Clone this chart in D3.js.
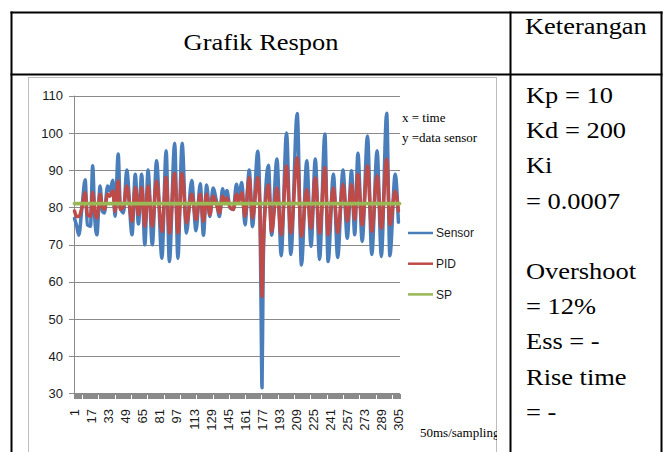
<!DOCTYPE html>
<html>
<head>
<meta charset="utf-8">
<script src="https://cdn.jsdelivr.net/npm/d3@7"></script>
<style>
  body { margin: 0; background: #fff; }
  svg { display: block; }
  .serif { font-family: "Liberation Serif", "Times New Roman", serif; fill: #000; }
  .sans { font-family: "Liberation Sans", Arial, sans-serif; fill: #1a1a1a; }
</style>
</head>
<body>
<script>
// sample count on the x axis (50ms/sampling)
var sampleCount = 306;
var xTickLabels = [1, 17, 33, 49, 65, 81, 97, 113, 129, 145, 161, 177, 193, 209, 225, 241, 257, 273, 289, 305];
var yTickValues = [30, 40, 50, 60, 70, 80, 90, 100, 110];
var setPoint = 81;

// [sample, value] turning points
var sensorPoints = [[1,77],[3,75],[5,72.5],[8,80],[11,87.4],[13,75.3],[16,74.9],[18,91.2],[20,77],[22,72.6],
  [25,85.7],[27,79],[29,78.5],[32,85.7],[34,84.4],[37,87.3],[39,77.6],[42,94.3],[44,79.9],[47,78.5],
  [50,90],[55,72.6],[58,88.9],[61,75.5],[64,88.9],[67,69.9],[70,90],[74,69.9],[78,92.5],[83,66.3],
  [87,95.2],[90,65.4],[95,97.2],[98,66.3],[102,97.2],[106,73.1],[111,87.2],[115,73.7],[119,86.3],[122,72.5],
  [125,86],[128,77.5],[131,85.2],[134,82],[137,77.5],[140,85],[142,81],[144,84.5],[147,79.8],[150,79.4],
  [153,86.2],[155,82.5],[158,86.7],[161,75.3],[165,90],[168,74.8],[173,95.1],[175,80],[176,55],[177,31.5],
  [178,62],[180,82],[183,91.3],[186,72.5],[191,93],[195,67],[200,100],[204,67.3],[210,105.2],[214,64.5],
  [219,92.5],[223,69.5],[227,93],[231,66],[236,99.7],[239,65.4],[244,88.9],[248,66.5],[253,90],[257,71.7],
  [261,89.8],[264,72.6],[267,94.5],[271,70.8],[276,99.2],[280,67.3],[285,95.2],[289,66.8],[294,105.3],[297,67],
  [302,88.9],[305,76]];

var pidPoints = [[1,79],[3,77.5],[5,77.5],[8,80],[11,83.9],[13,78],[16,77.6],[18,84],[20,79],[22,77.1],
  [25,83.5],[27,80],[29,79.4],[32,83.5],[34,83],[37,84.4],[39,78.9],[42,87.1],[44,79.4],[47,80],
  [50,85.7],[55,76.2],[58,85.3],[61,78],[64,85.3],[67,74.9],[70,85.7],[74,74.9],[78,87.1],[83,73.5],
  [87,88],[90,73.1],[95,89.1],[98,73.1],[102,89.1],[106,75.8],[111,83.5],[115,76.7],[119,83.5],[122,76.2],
  [125,83.5],[128,78],[131,83],[134,81],[137,78.5],[140,83],[142,81],[144,82.5],[147,80],[150,79.4],
  [153,83.5],[155,81.5],[158,83.9],[161,77.6],[165,88],[168,77.1],[173,88],[175,80],[176,66],[177,56],
  [178,68],[180,80],[183,86],[186,73.5],[191,85.2],[195,72.6],[200,91.1],[204,73.1],[210,93.3],[214,72.2],
  [219,84.8],[223,74.4],[227,87.9],[231,73.1],[236,90.6],[239,72.6],[244,85.2],[248,73.1],[253,86.1],[257,76.2],
  [261,86.1],[264,76.7],[267,88.8],[271,75.3],[276,91.1],[280,73.5],[285,88.4],[289,74.4],[294,92.9],[297,75.3],
  [302,84.3],[305,79]];

var legendNames = ["Sensor", "PID", "SP"];
var legendColors = ["#4A7EBB", "#BE4B48", "#98B954"];
var notes = ["Kp = 10", "Kd = 200", "Ki", "= 0.0007", "", "Overshoot", "= 12%", "Ess = -", "Rise time", "= -"];

var width = 665,
    height = 452;

var svg = d3.select("body").append("svg")
    .attr("width", width)
    .attr("height", height);

svg.append("rect").attr("width", width).attr("height", height).attr("fill", "#fff");

// ---- table ----
var table = svg.append("g").attr("stroke", "#000").attr("stroke-width", 2);
table.append("line").attr("x1", 10.5).attr("x2", 662.5).attr("y1", 12.5).attr("y2", 12.5);
table.append("line").attr("x1", 10.5).attr("x2", 662.5).attr("y1", 74.5).attr("y2", 74.5);
[11.5, 510.5, 661.5].forEach(function (x) {
    table.append("line").attr("x1", x).attr("x2", x).attr("y1", 11.5).attr("y2", height);
});

svg.append("text")
    .attr("class", "serif")
    .attr("text-anchor", "middle")
    .attr("font-size", 23)
    .attr("transform", "translate(261,50) scale(1.15,1)")
    .text("Grafik Respon");

svg.append("text")
    .attr("class", "serif")
    .attr("font-size", 23)
    .attr("transform", "translate(525,34) scale(1.15,1)")
    .text("Keterangan");

svg.selectAll(".note")
    .data(notes)
    .enter().append("text")
    .attr("class", "serif note")
    .attr("font-size", 23)
    .attr("transform", function (d, i) { return "translate(526," + (103 + i * 35.2) + ") scale(1.15,1)"; })
    .text(function (d) { return d; });

// ---- chart picture ----
svg.append("clipPath").attr("id", "frameClip")
    .append("rect").attr("x", 28).attr("y", 77).attr("width", 469).attr("height", 400);

svg.append("rect")
    .attr("x", 28.5).attr("y", 77.5)
    .attr("width", 468).attr("height", 400)
    .attr("fill", "#fff")
    .attr("stroke", "#bdbdbd");

var chart = svg.append("g").attr("clip-path", "url(#frameClip)");

var x = d3.scaleLinear()
    .domain([0.5, sampleCount + 0.5])
    .range([74, 400]);

var y = d3.scaleLinear()
    .domain([30, 110])
    .range([393.3, 95.7]);

// horizontal grid
chart.append("g")
    .selectAll("line")
    .data(yTickValues)
    .enter().append("line")
    .attr("x1", 69).attr("x2", 400)
    .attr("y1", function (d) { return Math.round(y(d)) + 0.5; })
    .attr("y2", function (d) { return Math.round(y(d)) + 0.5; })
    .attr("stroke", "#8a8a8a");

chart.append("line")
    .attr("x1", 74.5).attr("x2", 74.5)
    .attr("y1", y(110)).attr("y2", y(30))
    .attr("stroke", "#8a8a8a");

chart.append("g")
    .selectAll("text")
    .data(yTickValues)
    .enter().append("text")
    .attr("class", "sans")
    .attr("font-size", 13)
    .attr("text-anchor", "end")
    .attr("x", 63)
    .attr("y", function (d) { return y(d); })
    .attr("dy", "0.36em")
    .text(function (d) { return d; });

// category tick marks, one per sample
var xAxis = d3.axisBottom(x)
    .tickValues(d3.range(0.5, sampleCount + 1, 1))
    .tickSize(5)
    .tickFormat("");

var axisG = chart.append("g")
    .attr("transform", "translate(0," + (Math.round(y(30)) + 0.5) + ")")
    .attr("shape-rendering", "crispEdges")
    .call(xAxis);
axisG.select(".domain").attr("stroke", "#8a8a8a");
axisG.selectAll(".tick line").attr("stroke", "#8a8a8a");

chart.append("g")
    .selectAll("text")
    .data(xTickLabels)
    .enter().append("text")
    .attr("class", "sans")
    .attr("font-size", 13)
    .attr("text-anchor", "end")
    .attr("transform", function (d) { return "translate(" + x(d) + ",409) rotate(-90)"; })
    .attr("dy", "0.36em")
    .text(function (d) { return d; });

// series
var line = d3.line()
    .x(function (d) { return x(d[0]); })
    .y(function (d) { return y(d[1]); })
    .curve(d3.curveMonotoneX);

var seriesData = [sensorPoints, pidPoints, [[1, setPoint], [sampleCount, setPoint]]];

chart.selectAll(".series")
    .data(seriesData)
    .enter().append("path")
    .attr("class", "series")
    .attr("d", line)
    .attr("fill", "none")
    .attr("stroke", function (d, i) { return legendColors[i]; })
    .attr("stroke-width", function (d, i) { return i == 2 ? 3.8 : 3.5; })
    .attr("stroke-linejoin", "round")
    .attr("stroke-linecap", "round");

// legend
var legend = chart.selectAll(".legend")
    .data(legendNames)
    .enter().append("g")
    .attr("class", "legend")
    .attr("transform", function (d, i) { return "translate(408," + (233 + i * 30.7) + ")"; });

legend.append("line")
    .attr("x1", 0).attr("x2", 25)
    .attr("stroke", function (d, i) { return legendColors[i]; })
    .attr("stroke-width", 2.5);

legend.append("text")
    .attr("class", "sans")
    .attr("font-size", 12)
    .attr("x", 28)
    .attr("dy", "0.36em")
    .text(function (d) { return d; });

chart.append("text").attr("class", "serif").attr("font-size", 13)
    .attr("x", 402).attr("y", 122).text("x = time");
chart.append("text").attr("class", "serif").attr("font-size", 13)
    .attr("x", 402).attr("y", 142).text("y =data sensor");
chart.append("text").attr("class", "serif").attr("font-size", 13)
    .attr("x", 420).attr("y", 437).text("50ms/sampling");
</script>
</body>
</html>
